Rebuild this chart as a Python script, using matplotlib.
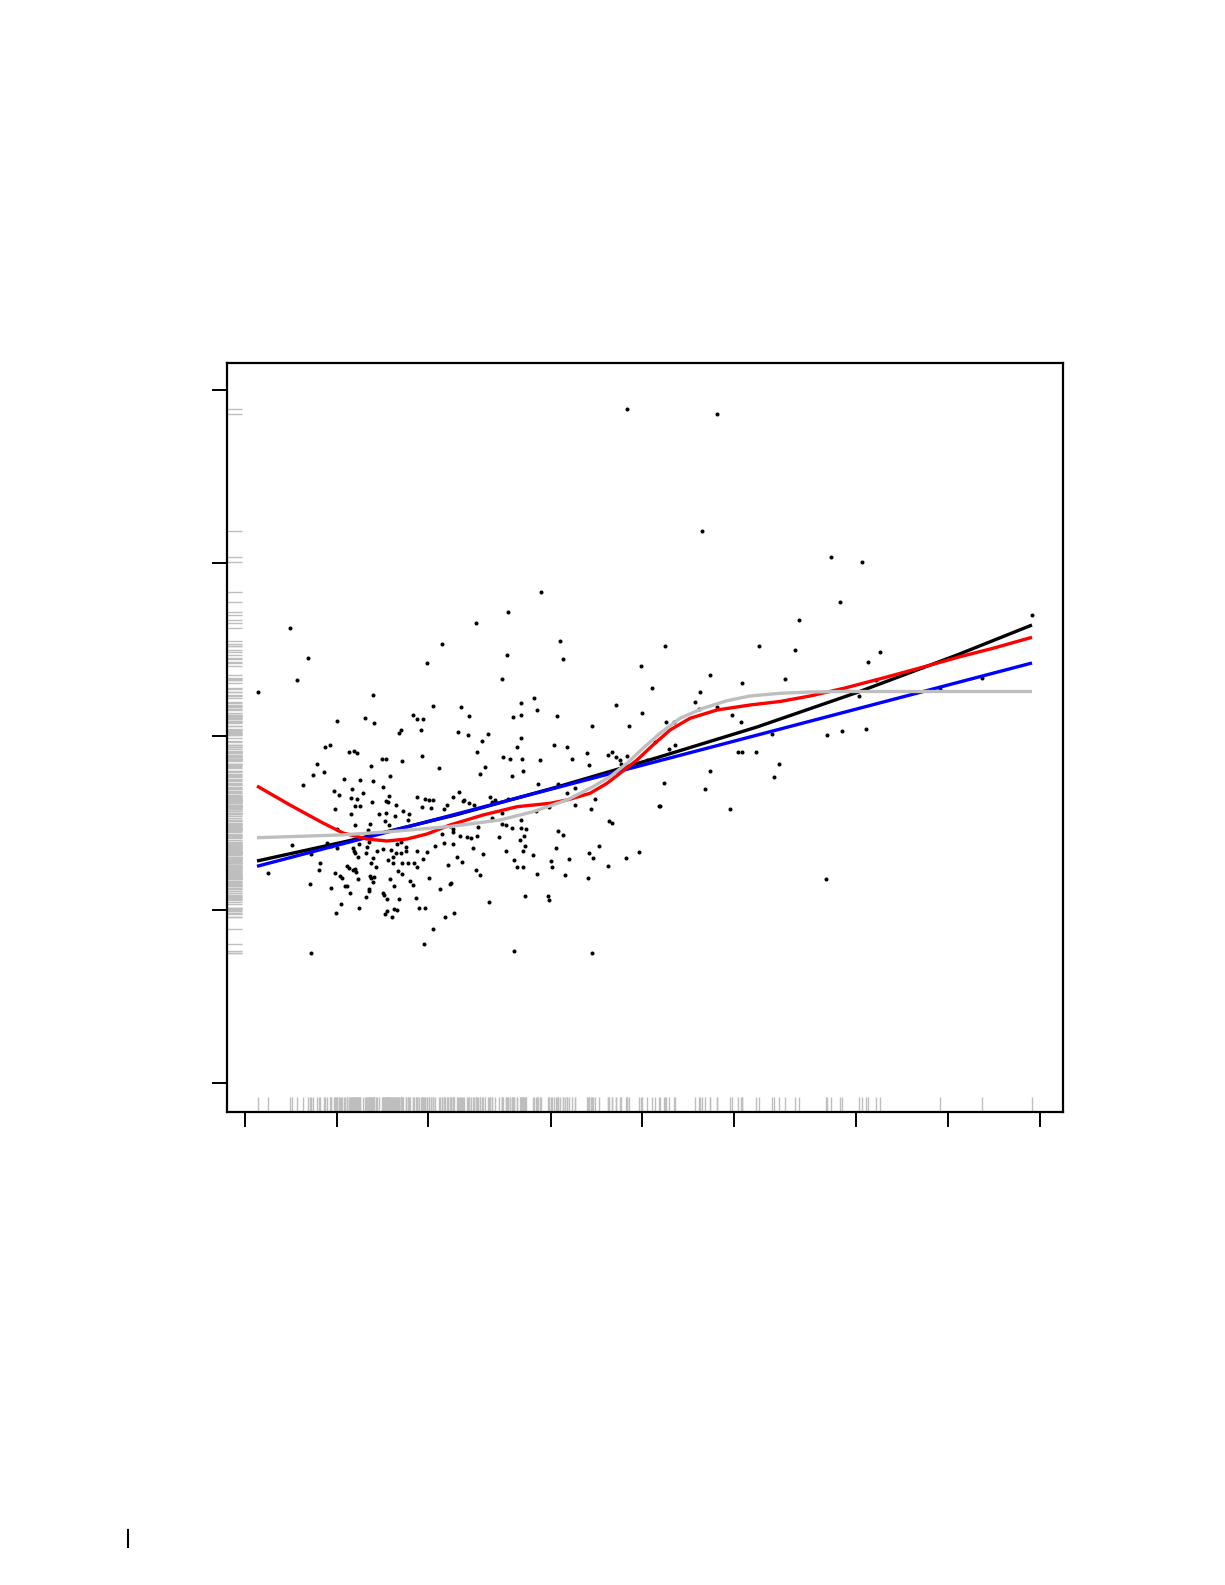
import matplotlib
matplotlib.use("Agg")
import matplotlib.pyplot as plt
from matplotlib.lines import Line2D
import numpy as np

# ---------------- data (arbitrary units) ----------------
pts_upper_left = [
    (45,455),(63,425),(52,403),(13,391),(128,388),(197,439),(182,420),(188,377),(168,368),(172,364),
    (178,364),(176,353),(156,353),(154,350),(92,362),(120,365),(129,360),(80,336),(85,338),(104,331),
    (109,332),(112,330),(137,324),(141,324),(157,322),(177,327),(126,317),(72,319),(79,311),(68,308),
    (99,304),(115,303),(145,307),(194,315)]

pts_lower_left = [
    (58,298),(138,296),(89,292),(94,288),(107,294),(128,302),(118,290),(144,287),(106,285),(112,284),
    (110,277),(115,277),(127,281),(141,282),(143,281),(151,278),(172,286),(180,284),(184,283),(188,283),
    (177,276),(186,275),(199,274),(202,278),(90,274),(106,269),(134,269),(141,270),(158,272),(164,269),
    (140,262),(150,267),(110,258),(125,259),(144,258),(92,254),(123,253),(154,254),(163,263),(197,249),
    (205,257),(47,238),(82,240),(86,237),(92,235),(66,229),(108,235),(109,232),(122,236),(124,241),
    (114,239),(110,230),(113,226),(121,230),(132,232),(138,234),(146,233),(152,239),(156,241),(151,230),
    (156,230),(161,232),(161,236),(172,232),(182,231),(190,237),(199,240),(75,220),(74,213),(90,210),
    (102,217),(104,215),(108,213),(110,214),(111,211),(128,225),(126,220),(131,216),(143,223),(148,220),
    (148,226),(153,212),(157,220),(157,209),(163,220),(169,220),(172,216),(178,224),(203,218),(23,210),
    (65,199),(86,195),(95,207),(97,205),(100,197),(102,197),(113,204),(105,190),(125,207),(126,205),
    (129,206),(128,201),(145,204),(149,197),(165,202),(168,198),(184,205),(205,199),(124,194),(124,192),
    (121,186),(138,190),(139,188),(142,184),(154,184),(171,185),(195,194),(96,179),(114,175),(91,170),
    (142,172),(140,169),(149,174),(152,173),(147,166),(174,175),(180,175),(200,166),(188,154),(179,139),
    (66,130)]

pts_upper_mid = [
    (263,471),(231,460),(315,442),(262,428),(318,424),(257,404),(396,417),(407,395),(216,376),(224,367),
    (276,380),(289,385),(292,373),(268,366),(276,368),(312,367),(371,378),(397,370),(213,351),(223,348),
    (243,349),(237,342),(276,345),(272,336),(232,331),(309,338),(322,336),(347,357),(384,357),(342,330),
    (363,328),(367,331),(371,326),(375,323),(376,319),(382,327),(402,323),(410,341),(258,326),(265,324),
    (277,324),(295,323),(327,324),(344,318),(240,316),(235,309),(267,307),(278,312)]

pts_lower_mid = [
    (208,286),(214,291),(218,282),(219,283),(224,280),(229,278),(245,286),(247,281),(250,283),(263,284),
    (293,299),(313,299),(322,290),(330,295),(330,278),(350,284),(346,274),(304,276),(291,272),(257,270),
    (247,265),(257,259),(261,258),(276,263),(267,255),(276,255),(281,254),(233,256),(208,254),(208,251),
    (215,247),(222,246),(226,245),(232,247),(208,239),(254,246),(279,247),(275,243),(313,252),(318,248),
    (364,262),(367,260),(414,277),(228,235),(238,229),(261,232),(280,237),(278,232),(288,228),(311,235),
    (354,237),(344,230),(348,225),(324,224),(212,226),(217,221),(269,223),(272,216),(278,216),(306,222),
    (307,216),(381,225),(394,231),(363,217),(231,213),(235,208),(292,209),(320,208),(343,205),(206,200),
    (244,181),(280,187),(303,187),(304,183),(209,170),(269,132),(347,130)]

pts_top = [(382,674),(472,669),(457,552),(586,526),(617,521),(296,491),(595,481)]

pts_right = [
    (554,463),(787,468),(420,437),(514,437),(550,433),(635,431),(623,421),(465,408),(497,400),(540,404),
    (631,403),(695,394),(614,387),(455,391),(450,381),(454,374),(472,376),(487,368),(421,361),(429,361),
    (496,361),(424,334),(430,338),(527,349),(582,348),(597,352),(621,354),(493,331),(497,331),(511,331),
    (465,312),(534,319),(529,306),(419,300),(460,294),(485,274),(415,277),(581,204),(737,405)]

# fitted curves
black_x = [12, 112, 212, 312, 412, 512, 612, 712, 787]
black_y = [222, 244, 268.4, 296, 325.3, 356, 390.5, 428, 458]

blue_x = [12, 787]
blue_y = [216.7, 420]

red_x = [12, 45, 78, 98, 122, 142, 162, 182, 205, 238, 272, 305, 322, 345, 362, 375, 392, 408,
         425, 445, 472, 505, 535, 565, 600, 640, 682, 715, 748, 787]
red_y = [297, 278, 260, 250, 244, 242, 244, 249, 258, 268, 276.3, 279.7, 283, 289.7, 299.7, 309.7, 323, 338,
         353, 364.7, 373, 378, 381.5, 387, 395, 405.5, 417, 426.3, 434.7, 445.7]

grey_x = [12, 95, 145, 205, 255, 288, 322, 348, 365, 382, 398, 415, 435, 458, 482, 505, 535, 565, 600, 787]
grey_y = [245.3, 248, 251.3, 256.5, 263, 271.3, 283, 296.3, 306.3, 319.7, 334.7, 349.7, 364.7, 374.7,
          382.3, 387, 389.7, 391, 391.5, 391.5]

x_ticks = [0, 91.7, 183.4, 305.6, 397.3, 489, 611.2, 702.9, 794.6]
y_ticks = [0, 173.3, 346.6, 519.9, 693.2]

# ---------------- figure ----------------
pts = np.array(pts_upper_left + pts_lower_left + pts_upper_mid + pts_lower_mid + pts_top + pts_right, float)
xs, ys = pts[:, 0], pts[:, 1]

fig = plt.figure(figsize=(12.25, 15.85), dpi=100)
ax = fig.add_axes([0.18506, 0.29861, 0.68245, 0.47256])
ax.set_xlim(-18.3, 817.7)
ax.set_ylim(-28.7, 720.3)

rug_col = '#bebebe'
ax.vlines(xs, 0, 0.02, transform=ax.get_xaxis_transform(), color=rug_col, lw=1.0, zorder=1)
ax.hlines(ys, 0, 0.018, transform=ax.get_yaxis_transform(), color=rug_col, lw=1.0, zorder=1)

ax.plot(xs, ys, 'o', ms=2.9, mew=0, color='black', zorder=2)

ax.plot(black_x, black_y, color='black', lw=2.4, zorder=3, solid_capstyle='butt', solid_joinstyle='round')
ax.plot(blue_x, blue_y, color='#0000ff', lw=2.4, zorder=4, solid_capstyle='butt')
ax.plot(red_x, red_y, color='#ff0000', lw=2.4, zorder=5, solid_capstyle='butt', solid_joinstyle='round')
ax.plot(grey_x, grey_y, color='#bebebe', lw=2.4, zorder=6, solid_capstyle='butt', solid_joinstyle='round')

ax.set_xticks(x_ticks)
ax.set_yticks(y_ticks)
ax.set_xticklabels([])
ax.set_yticklabels([])
ax.tick_params(direction='out', length=10.5, width=1.4, color='black')
for s in ax.spines.values():
    s.set_linewidth(1.6)
    s.set_color('black')

fig.add_artist(Line2D([0.1047, 0.1047], [0.0242, 0.0347], transform=fig.transFigure,
                      color='black', lw=1.5))

fig.savefig('out.png', dpi=100)
